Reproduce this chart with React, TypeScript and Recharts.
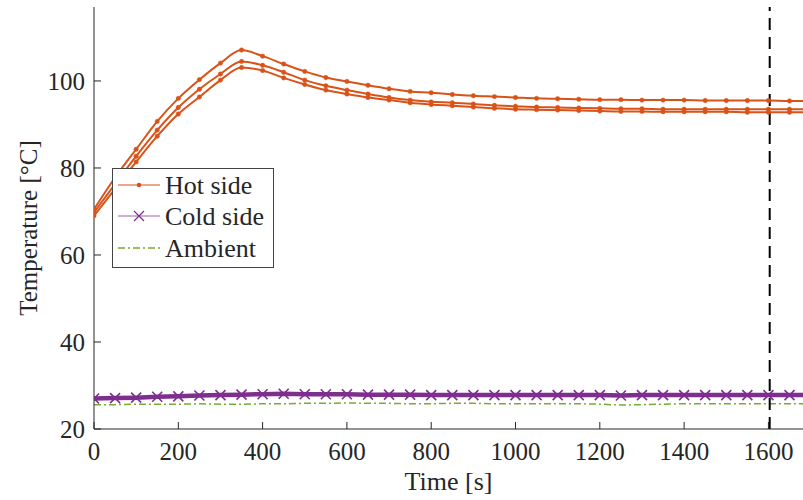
import { LineChart, Line, XAxis, YAxis, ReferenceLine, Legend } from "recharts";

const HOT = "#D95319";
const COLD = "#7E2F8E";
const AMB = "#77AC30";
const AXIS = "#262626";
const FONT = "'Liberation Serif', 'DejaVu Serif', serif";

// time stamps [s]; 1700 is only there so the curves run to the plot edge
const time = [
  0, 50, 100, 150, 200, 250, 300, 350, 400, 450, 500, 550, 600, 650, 700, 750, 800, 850,
  900, 950, 1000, 1050, 1100, 1150, 1200, 1250, 1300, 1350, 1400, 1450, 1500, 1550, 1600,
  1650, 1700,
];

const hot1 = [
  70.5, 77.8, 84.3, 90.7, 96.0, 100.3, 104.1, 107.1, 105.7, 103.9, 102.2, 100.8, 99.9, 99.0,
  98.2, 97.6, 97.3, 96.9, 96.6, 96.4, 96.2, 96.0, 95.9, 95.8, 95.7, 95.7, 95.6, 95.6, 95.6,
  95.5, 95.5, 95.5, 95.5, 95.4, 95.4,
];
const hot2 = [
  69.8, 76.3, 82.7, 88.7, 93.9, 98.1, 101.6, 104.5, 103.6, 102.0, 100.2, 98.9, 97.9, 97.0,
  96.2, 95.6, 95.2, 95.0, 94.7, 94.4, 94.2, 94.0, 93.9, 93.8, 93.7, 93.6, 93.6, 93.5, 93.5,
  93.5, 93.5, 93.5, 93.5, 93.5, 93.5,
];
const hot3 = [
  69.0, 75.2, 81.4, 87.3, 92.4, 96.3, 100.2, 103.1, 102.4, 100.7, 99.2, 97.9, 97.0, 96.2,
  95.6, 95.0, 94.6, 94.3, 94.0, 93.7, 93.5, 93.4, 93.3, 93.2, 93.1, 93.0, 93.0, 92.9, 92.9,
  92.9, 92.9, 92.8, 92.8, 92.8, 92.8,
];
const cold = [
  27.0, 27.1, 27.2, 27.4, 27.5, 27.7, 27.8, 27.9, 28.0, 28.1, 28.0, 28.0, 28.0, 27.9, 27.9,
  27.9, 27.8, 27.8, 27.8, 27.8, 27.8, 27.8, 27.8, 27.8, 27.8, 27.7, 27.8, 27.8, 27.8, 27.8,
  27.8, 27.8, 27.8, 27.8, 27.8,
];
const ambient = [
  25.6, 25.6, 25.7, 25.7, 25.7, 25.8, 25.7, 25.7, 25.8, 25.8, 25.9, 25.9, 26.0, 25.9, 25.9,
  25.8, 25.8, 25.9, 25.9, 25.8, 25.8, 25.8, 25.8, 25.8, 25.7, 25.5, 25.6, 25.7, 25.8, 25.8,
  25.8, 25.8, 25.8, 25.8, 25.8,
];

const xTicks = [0, 200, 400, 600, 800, 1000, 1200, 1400, 1600];
const yTicks = [20, 40, 60, 80, 100];
const cutoff = 1603;

const data = time.map((t, i) => ({
  t,
  hot1: hot1[i],
  hot2: hot2[i],
  hot3: hot3[i],
  cold: cold[i],
  ambient: ambient[i],
}));

const tickStyle = { fontSize: 25, fill: AXIS, fontFamily: FONT };
const hotDot = { r: 2.2, fill: HOT, stroke: HOT, strokeWidth: 0.5 };

function Cross(props: any) {
  const { cx, cy, index } = props;
  if (cx == null || cy == null) return <g key={`x-${index}`} />;
  const s = 5;
  return (
    <path
      key={`x-${index}`}
      d={`M${cx - s},${cy - s}L${cx + s},${cy + s}M${cx - s},${cy + s}L${cx + s},${cy - s}`}
      stroke={COLD}
      strokeWidth={1.6}
      fill="none"
    />
  );
}

function LegendBox() {
  const rows = [
    { label: "Hot side", y: 17 },
    { label: "Cold side", y: 48 },
    { label: "Ambient", y: 80 },
  ];
  return (
    <svg width={162} height={100} style={{ display: "block" }}>
      <rect x={0.5} y={0.5} width={161} height={99} fill="#fff" stroke="#444" strokeWidth={1} />
      <line x1={6} x2={48} y1={rows[0].y} y2={rows[0].y} stroke={HOT} strokeWidth={1.2} />
      <circle cx={27} cy={rows[0].y} r={2.3} fill={HOT} />
      <line x1={6} x2={48} y1={rows[1].y} y2={rows[1].y} stroke={COLD} strokeWidth={1} opacity={0.75} />
      <path
        d={`M22,${rows[1].y - 5}L32,${rows[1].y + 5}M22,${rows[1].y + 5}L32,${rows[1].y - 5}`}
        stroke={COLD}
        strokeWidth={1.2}
      />
      <line
        x1={6}
        x2={48}
        y1={rows[2].y}
        y2={rows[2].y}
        stroke={AMB}
        strokeWidth={1.5}
        strokeDasharray="7 3 2 3"
      />
      {rows.map((r) => (
        <text key={r.label} x={53} y={r.y + 9} fontSize={26} fill={AXIS} fontFamily={FONT}>
          {r.label}
        </text>
      ))}
    </svg>
  );
}

export default function App() {
  return (
    <div style={{ position: "absolute", left: 0, top: 0, background: "#fff" }}>
      <LineChart width={803} height={500} data={data} margin={{ top: 7, right: 0, bottom: 0, left: 0 }}>
        <XAxis
          dataKey="t"
          type="number"
          domain={[0, 1682]}
          allowDataOverflow
          ticks={xTicks}
          tick={tickStyle}
          tickSize={-7}
          tickMargin={20}
          tickLine={{ stroke: AXIS }}
          axisLine={{ stroke: AXIS }}
          height={71}
          label={{
            content: ({ viewBox }: any) => (
              <text
                x={viewBox.x + viewBox.width / 2}
                y={490}
                textAnchor="middle"
                fontSize={26}
                fill={AXIS}
                fontFamily={FONT}
              >
                Time [s]
              </text>
            ),
          }}
        />
        <YAxis
          type="number"
          domain={[20, 117]}
          allowDataOverflow
          ticks={yTicks}
          tick={tickStyle}
          tickSize={-7}
          tickMargin={16}
          tickLine={{ stroke: AXIS }}
          axisLine={{ stroke: AXIS }}
          width={94}
          label={{
            content: ({ viewBox }: any) => {
              const cx = 28;
              const cy = viewBox.y + viewBox.height / 2 + 10;
              return (
                <text
                  x={cx}
                  y={cy}
                  transform={`rotate(-90 ${cx} ${cy})`}
                  textAnchor="middle"
                  dominantBaseline="central"
                  fontSize={25}
                  fill={AXIS}
                  fontFamily={FONT}
                >
                  Temperature [°C]
                </text>
              );
            },
          }}
        />
        <Line type="monotone" dataKey="hot1" stroke={HOT} strokeWidth={2} dot={hotDot} isAnimationActive={false} />
        <Line type="monotone" dataKey="hot2" stroke={HOT} strokeWidth={2} dot={hotDot} isAnimationActive={false} />
        <Line type="monotone" dataKey="hot3" stroke={HOT} strokeWidth={2} dot={hotDot} isAnimationActive={false} />
        <Line dataKey="ambient" stroke={AMB} strokeWidth={1.5} strokeDasharray="7 3 2 3" dot={false} isAnimationActive={false} />
        <Line dataKey="cold" stroke={COLD} strokeWidth={4.5} dot={Cross} isAnimationActive={false} />
        <ReferenceLine x={cutoff} stroke="#000" strokeWidth={2} strokeDasharray="12 7" />
        <Legend
          layout="horizontal"
          verticalAlign="middle"
          align="center"
          content={() => <LegendBox />}
          wrapperStyle={{ left: 112, top: 168, width: 162, height: 100 }}
        />
      </LineChart>
    </div>
  );
}
